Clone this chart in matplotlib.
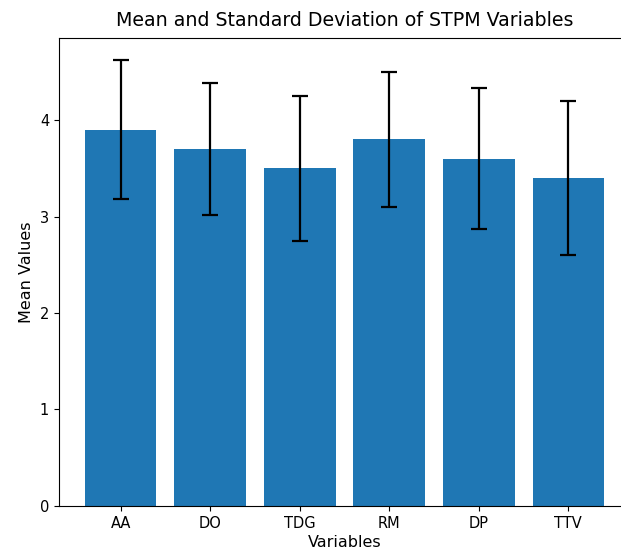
import matplotlib.pyplot as plt

# STPM variables: means and standard deviations
variables = ['AA', 'DO', 'TDG', 'RM', 'DP', 'TTV']
means = [3.9, 3.7, 3.5, 3.8, 3.6, 3.4]
std_devs = [0.72, 0.68, 0.75, 0.70, 0.73, 0.80]

fig = plt.figure(figsize=(6.21, 5.59), dpi=100)
# axes run slightly past the right edge, as in the cropped original
ax = fig.add_axes([0.0947, 0.095, 0.92, 0.837])

ax.bar(variables, means, yerr=std_devs, capsize=6, color='#1f77b4',
       error_kw={'elinewidth': 1.6, 'capthick': 1.6})
ax.set_xlabel('Variables', fontsize=11.5, labelpad=3)
ax.set_ylabel('Mean Values', fontsize=11.5)
ax.set_title('Mean and Standard Deviation of STPM Variables', fontsize=13.7, pad=9)
ax.tick_params(labelsize=10.5)

fig.savefig('out.png', dpi=100)
